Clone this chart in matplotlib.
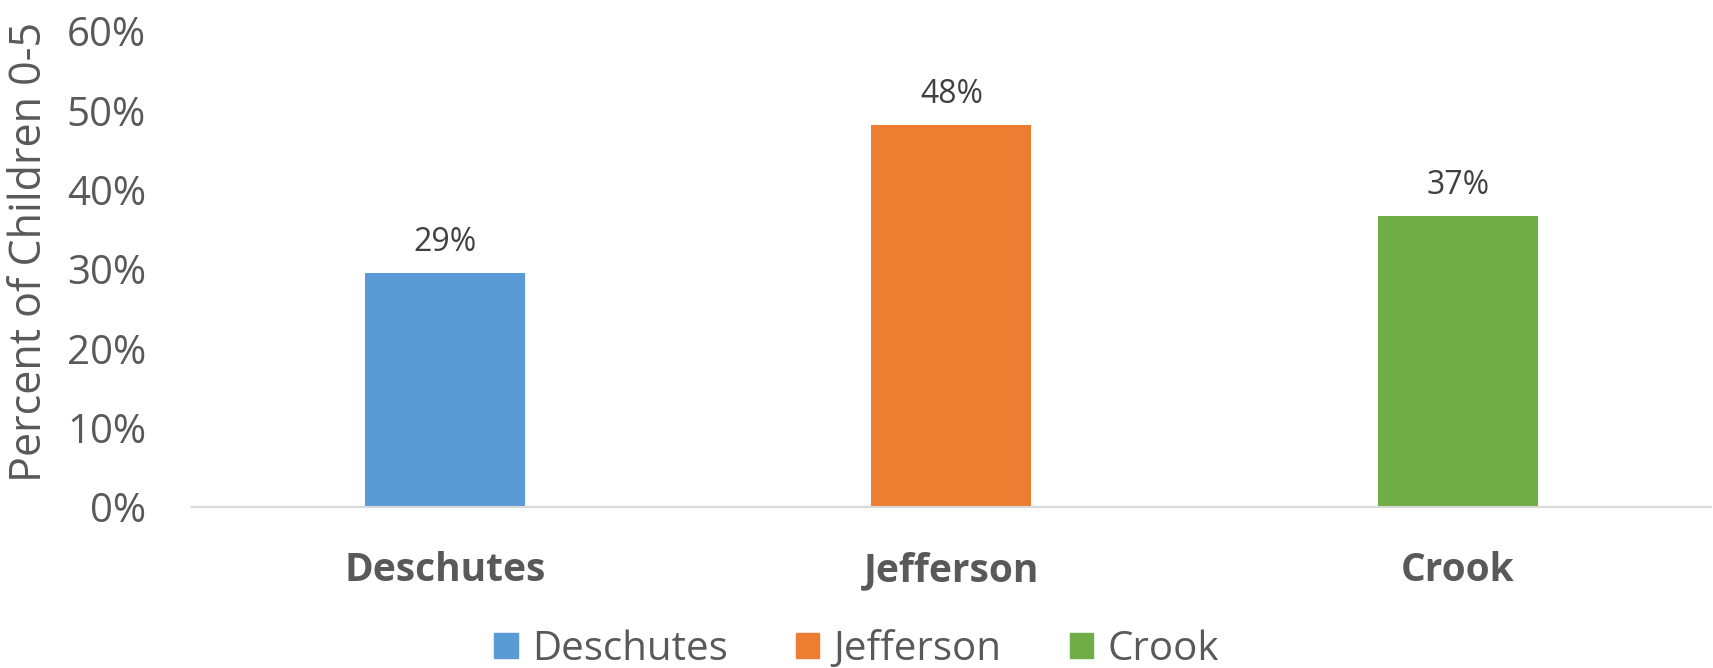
import matplotlib
matplotlib.use("Agg")
from matplotlib import pyplot as plt
from matplotlib.patches import Patch

counties = ["Deschutes", "Jefferson", "Crook"]
values = [0.295, 0.482, 0.367]
labels = ["29%", "48%", "37%"]
colors = ["#5B9BD5", "#ED7D31", "#70AD47"]
yticks = [0, 0.1, 0.2, 0.3, 0.4, 0.5, 0.6]

plt.rcParams["font.family"] = ["Open Sans", "DejaVu Sans"]
grey = "#595959"

fig = plt.figure(figsize=(17.13, 6.68), dpi=100)
ax = fig.add_axes([0.112, 0.241, 0.8868, 0.7126])

x = range(len(counties))
bars = ax.bar(x, values, width=0.316, color=colors)
for b, lab in zip(bars, labels):
    ax.annotate(lab, (b.get_x() + b.get_width() / 2, b.get_height()),
                xytext=(0, 10), textcoords="offset points",
                ha="center", va="bottom", fontsize=23, color="#404040")

ax.set_xlim(-0.5, 2.5)
ax.set_ylim(0, 0.6)
ax.set_yticks(yticks)
ax.set_yticklabels([f"{int(round(t * 100))}%" for t in yticks],
                   fontsize=29, color=grey)
ax.set_xticks(list(x))
ax.set_xticklabels(counties, fontsize=28, fontweight="bold", color=grey)
ax.tick_params(axis="y", length=0, pad=33)
ax.tick_params(axis="x", length=0, pad=32)
ax.set_ylabel("Percent of Children 0-5", fontsize=31, color=grey)
ax.yaxis.set_label_coords(-0.092, 0.535)

for s in ["top", "right", "left"]:
    ax.spines[s].set_visible(False)
ax.spines["bottom"].set_color("#d9d9d9")
ax.spines["bottom"].set_linewidth(1.5)

handles = [Patch(color=c, label=n) for c, n in zip(colors, counties)]
fig.legend(handles=handles, loc="center", bbox_to_anchor=(0.5, 0.028), ncol=3,
           frameon=False, fontsize=29, labelcolor=grey, handlelength=0.58,
           handleheight=0.58, handletextpad=0.35, columnspacing=1.7)

fig.savefig("out.png", dpi=100)
